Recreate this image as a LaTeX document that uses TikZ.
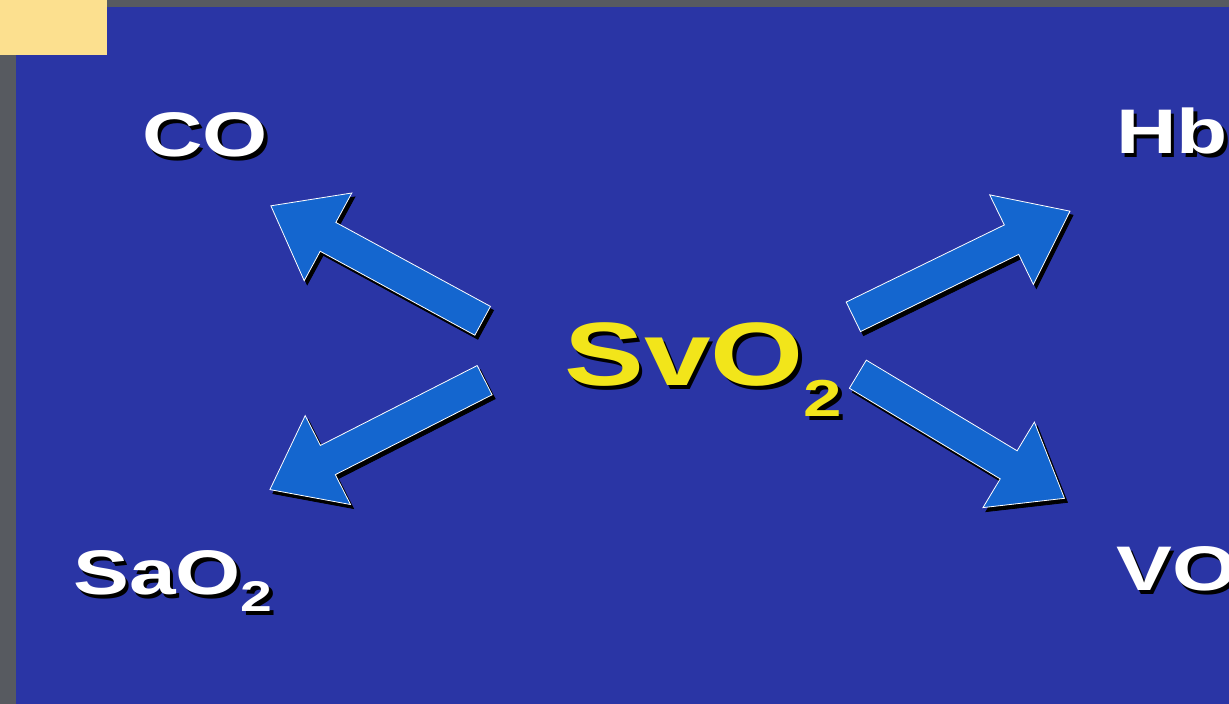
\documentclass[tikz,border=0pt]{standalone}
\usepackage{fontspec}
\usepackage{tikz}
\usetikzlibrary{shapes.arrows}
\newfontfamily\slidefont[FakeStretch=1.33]{Liberation Sans}
\definecolor{slidegrey}{HTML}{575A60}
\definecolor{slideblue}{HTML}{2A35A5}
\definecolor{tabyellow}{HTML}{FCE08F}
\definecolor{arrowblue}{HTML}{1466CF}
\definecolor{svyellow}{HTML}{F2E51A}
\newcommand\subtwo[2]{\raisebox{-#1pt}{\fontsize{#2}{#2}\selectfont 2}}
\newcommand\shtext[1]{\makebox[0pt][l]{\kern3.5pt\raisebox{-3.5pt}{\color{black}#1}}#1}
\tikzset{
  lbl/.style={anchor=base west, inner sep=0pt, text=white,
              font=\slidefont\bfseries\fontsize{63}{63}\selectfont},
  lbl big/.style={lbl, text=svyellow, font=\slidefont\bfseries\fontsize{90}{90}\selectfont},
  blk arrow/.style={single arrow, anchor=tail, draw=white, line width=0.8pt, fill=arrowblue,
                    minimum height=241pt, inner xsep=0pt, inner ysep=16pt,
                    single arrow head extend=33.5pt, single arrow tip angle=75},
  blk shadow/.style={blk arrow, draw=black, fill=black},
}
\begin{document}
\begin{tikzpicture}[x=1pt, y=1pt]
  % frame
  \fill[slidegrey] (0,0) rectangle (1229,704);
  \useasboundingbox (0,0) rectangle (1229,704);
  \fill[slideblue] (16,0) rectangle (1229,697);
  \fill[tabyellow] (0,649) rectangle (107,704);
  % block arrows out of the centre
  \foreach \n/\x/\y/\a in {toco/483/383/151.5, tosao/485/324/207, tohb/853/387/26, tovo/857.5/330/-31} {
    \node[blk shadow, rotate=\a] (\n-sh) at (\x+3,\y-4) {};
    \node[blk arrow, rotate=\a] (\n) at (\x,\y) {};
  }
  % labels
  \foreach \n/\x/\y/\t in {co/142/547/CO, hb/1116/550/Hb, sao/73/109/{SaO\subtwo{17}{43}}, vo/1116/113/VO}
    \node[lbl] (\n) at (\x,\y) {\shtext{\t}};
  \node[lbl big] (svo) at (564,318) {\shtext{SvO\subtwo{31}{52}}};
\end{tikzpicture}
\end{document}
